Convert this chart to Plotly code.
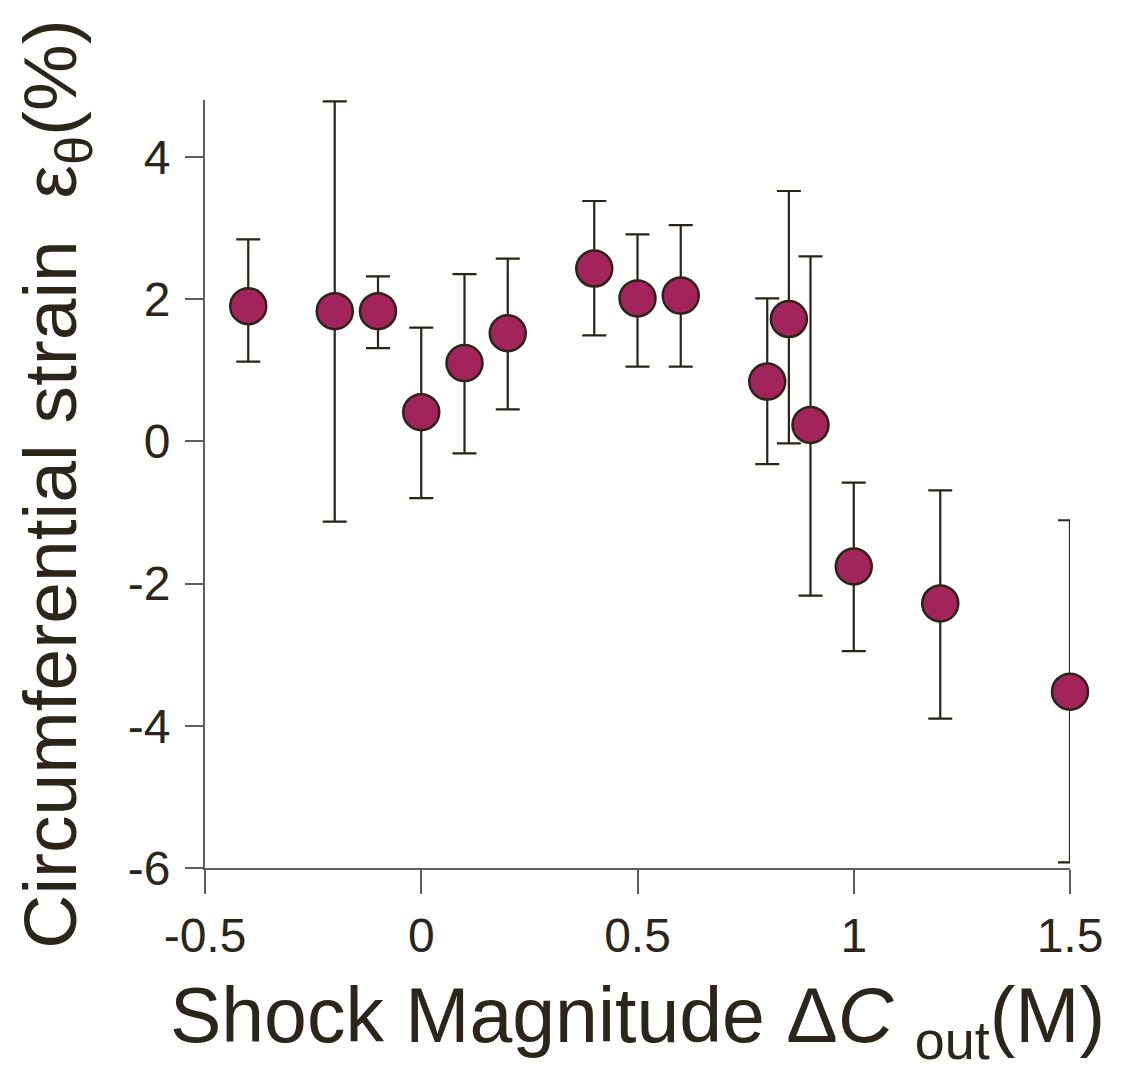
import plotly.graph_objects as go

shock = [-0.4, -0.2, -0.1, 0.0, 0.1, 0.2, 0.4, 0.5, 0.6, 0.8, 0.85, 0.9, 1.0, 1.2, 1.5]
strain = [1.90, 1.83, 1.83, 0.41, 1.10, 1.52, 2.43, 2.01, 2.05, 0.84, 1.72, 0.23, -1.76, -2.28, -3.52]
err_top = [2.84, 4.78, 2.32, 1.60, 2.35, 2.57, 3.38, 2.91, 3.04, 2.01, 3.52, 2.60, -0.58, -0.69, -1.11]
err_bot = [1.12, -1.13, 1.31, -0.80, -0.17, 0.45, 1.49, 1.05, 1.05, -0.32, -0.03, -2.17, -2.95, -3.90, -5.92]

x_ticks = [-0.5, 0, 0.5, 1, 1.5]
x_ticktext = ["-0.5", "0", "0.5", "1", "1.5"]
y_ticks = [-6, -4, -2, 0, 2, 4]
y_ticktext = ["-6", "-4", "-2", "0", "2", "4"]

err_plus = [t - s for t, s in zip(err_top, strain)]
err_minus = [s - b for s, b in zip(strain, err_bot)]

TEXT = "#2b251b"
AXIS = "#5a5f66"
FONT = "Liberation Sans, Arial, Helvetica, sans-serif"

fig = go.Figure()
fig.add_trace(go.Scatter(
    x=shock, y=strain, mode="markers",
    marker=dict(size=36, color="#a2245a", line=dict(color="#2b2418", width=2.5)),
    error_y=dict(type="data", symmetric=False, array=err_plus, arrayminus=err_minus,
                 color="#2b2418", thickness=2.2, width=12),
    cliponaxis=False,
))

fig.update_layout(
    width=1123, height=1085,
    paper_bgcolor="white", plot_bgcolor="white",
    margin=dict(l=197, r=61, t=92, b=225),
    showlegend=False,
    font=dict(family=FONT, color=TEXT),
    xaxis=dict(
        range=[-0.5, 1.5], tickvals=x_ticks, ticktext=x_ticktext,
        showgrid=False, zeroline=False, showline=True, linecolor=AXIS, linewidth=2,
        ticks="outside", ticklen=24, tickcolor=AXIS, tickwidth=2,
        tickfont=dict(size=48, color=TEXT, family=FONT),
        automargin=False,
        title=dict(text="Shock Magnitude Δ<i>C</i> <sub>out</sub>(M)",
                   font=dict(size=77, color=TEXT, family=FONT), standoff=28),
    ),
    yaxis=dict(
        range=[-6, 4.8], tickvals=y_ticks, ticktext=y_ticktext,
        showgrid=False, zeroline=False, showline=True, linecolor=AXIS, linewidth=2,
        ticks="outside", ticklen=18, tickcolor=AXIS, tickwidth=2,
        tickfont=dict(size=48, color=TEXT, family=FONT),
        ticklabelstandoff=5,
        automargin=False,
        title=dict(text="Circumferential strain&nbsp; ε<sub>θ</sub>(%)",
                   font=dict(size=75, color=TEXT, family=FONT), standoff=55),
    ),
)

fig.write_html("out.html")
